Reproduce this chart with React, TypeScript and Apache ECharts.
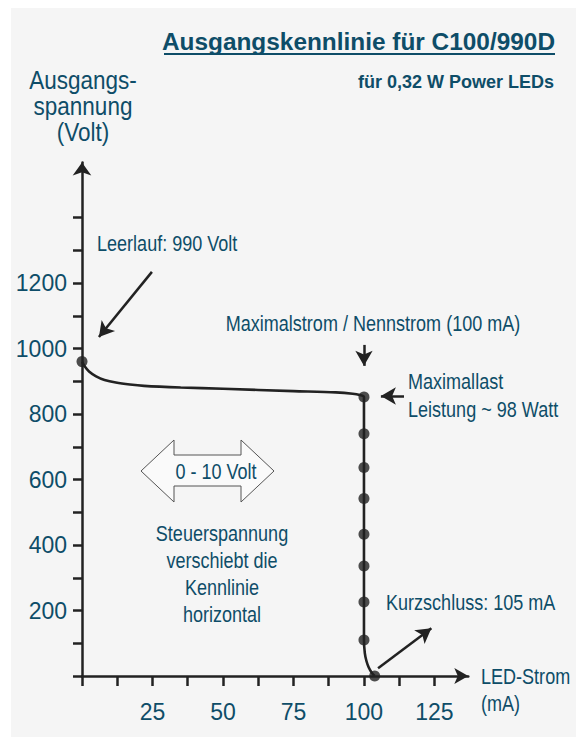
import React, { useEffect, useRef } from "react";
import * as echarts from "echarts";

const SANS = "'Liberation Sans', Arial, sans-serif";
const TEAL = "#0e4d68";
const INK = "#222222";

// Kennlinie (mA, Volt)
const curveCurrent = [0, 1, 2.5, 5, 8, 12, 17, 22, 35, 50, 75, 90, 96, 98.5, 100, 100, 100, 100, 100, 100, 100, 100, 100.3, 100.9, 101.7, 102.7, 103.8];
const curveVoltage = [960, 945, 930, 915, 904, 896, 890, 886, 881, 877, 870, 866, 862, 858, 852, 740, 637, 542, 433, 336, 226, 110, 70, 45, 26, 11, 0];

// markierte Punkte
const dotCurrent = [0, 100, 100, 100, 100, 100, 100, 100, 100, 103.8];
const dotVoltage = [960, 852, 740, 637, 542, 433, 336, 226, 110, 0];

const yTicks = [0, 100, 200, 300, 400, 500, 600, 700, 800, 900, 1000, 1100, 1200, 1300, 1400];
const yLabels = [200, 400, 600, 800, 1000, 1200];
const xTicks = [0, 12.5, 25, 37.5, 50, 62.5, 75, 87.5, 100, 112.5, 125];
const xLabels = [25, 50, 75, 100, 125];

// Pfeile: [von, nach] in Datenkoordinaten
const arrows: [number, number, number, number][] = [
  [24.8, 1234, 6.0, 1035],
  [100, 1011, 100, 947],
  [114.2, 855, 106, 855],
  [105, 24, 123.9, 146],
];

export default function App() {
  const ref = useRef<HTMLDivElement>(null);
  useEffect(() => {
    if (!ref.current) return;
    const chart = echarts.init(ref.current, null, { renderer: "svg" });
    const curve = curveCurrent.map((x, i) => [x, curveVoltage[i]]);
    const dots = dotCurrent.map((x, i) => [x, dotVoltage[i]]);
    const txt = (x: number, y: number, text: string, opts: any = {}) => ({
      type: "text",
      x,
      y,
      scaleX: opts.scaleX ?? 0.82,
      style: {
        text,
        fill: TEAL,
        fontSize: opts.size || 22,
        fontFamily: SANS,
        fontWeight: opts.weight || "normal",
        align: opts.align || "left",
        verticalAlign: "middle",
        lineHeight: opts.lineHeight || 27,
      },
      z: 10,
    });
    chart.setOption({
      animation: false,
      backgroundColor: "#ffffff",
      grid: { left: 82, top: 162.5, width: 386.3, height: 513.5 },
      xAxis: {
        type: "value",
        min: 0,
        max: 137,
        splitLine: { show: false },
        axisLine: {
          show: true,
          symbol: ["none", "arrow"],
          symbolSize: [12, 14],
          lineStyle: { color: INK, width: 2.5 },
        },
        axisTick: { show: true, customValues: xTicks, length: 10, lineStyle: { color: INK, width: 2.5 } },
        axisLabel: {
          customValues: xLabels,
          formatter: (v: number) => String(v),
          color: TEAL,
          fontFamily: SANS,
          fontSize: 23,
          margin: 24,
        },
      },
      yAxis: {
        type: "value",
        min: 0,
        max: 1568,
        splitLine: { show: false },
        axisLine: {
          show: true,
          symbol: ["none", "arrow"],
          symbolSize: [14, 13],
          lineStyle: { color: INK, width: 2.5 },
        },
        axisTick: { show: true, customValues: yTicks, length: 9, lineStyle: { color: INK, width: 2.5 } },
        axisLabel: {
          customValues: yLabels,
          formatter: (v: number) => String(v),
          color: TEAL,
          fontFamily: SANS,
          fontSize: 23,
          margin: 15,
        },
      },
      series: [
        {
          type: "line",
          data: curve,
          smooth: 0.3,
          showSymbol: false,
          lineStyle: { color: INK, width: 2.6 },
          markLine: {
            silent: true,
            symbol: ["none", "arrow"],
            symbolSize: [13, 15],
            label: { show: false },
            lineStyle: { color: INK, width: 2.5, type: "solid" },
            data: arrows.map((a) => [
              { coord: [a[0], a[1]] },
              { coord: [a[2], a[3]] },
            ]),
          },
        },
        {
          type: "scatter",
          data: dots,
          symbol: "circle",
          symbolSize: 11,
          itemStyle: { color: INK },
          z: 5,
        },
      ],
      graphic: [
        { type: "rect", shape: { x: 11, y: 8, width: 565, height: 729 }, style: { fill: "#f5f5f5" }, z: -10 },
        txt(555, 41, "Ausgangskennlinie für C100/990D", { size: 24.4, weight: "bold", align: "right", scaleX: 1 }),
        { type: "line", shape: { x1: 164, y1: 54, x2: 555, y2: 54 }, style: { stroke: TEAL, lineWidth: 2 }, z: 10 },
        txt(554, 82, "für 0,32 W Power LEDs", { size: 18, weight: "bold", align: "right", scaleX: 1 }),
        txt(83, 106, "Ausgangs-\nspannung\n(Volt)", { size: 25, align: "center", lineHeight: 26, scaleX: 0.9 }),
        txt(97, 243, "Leerlauf: 990 Volt"),
        txt(373, 323, "Maximalstrom / Nennstrom (100 mA)", { align: "center" }),
        txt(408, 395, "Maximallast\nLeistung ~ 98 Watt", { lineHeight: 28 }),
        txt(386, 602, "Kurzschluss: 105 mA"),
        txt(481, 690, "LED-Strom\n(mA)", { lineHeight: 27 }),
        {
          type: "polygon",
          shape: {
            points: [
              [141, 471], [174, 440], [174, 455], [241, 455], [241, 440],
              [274, 471], [241, 502], [241, 486], [174, 486], [174, 502],
            ],
          },
          style: { fill: "#fafafa", stroke: "#555555", lineWidth: 1 },
          z: 9,
        },
        txt(216, 471, "0 - 10 Volt", { align: "center" }),
        txt(222, 574, "Steuerspannung\nverschiebt die\nKennlinie\nhorizontal", { align: "center", lineHeight: 27 }),
      ],
    });
    return () => chart.dispose();
  }, []);
  return (
    <div
      ref={ref}
      style={{ position: "absolute", left: 0, top: 0, width: 576, height: 746 }}
    />
  );
}
